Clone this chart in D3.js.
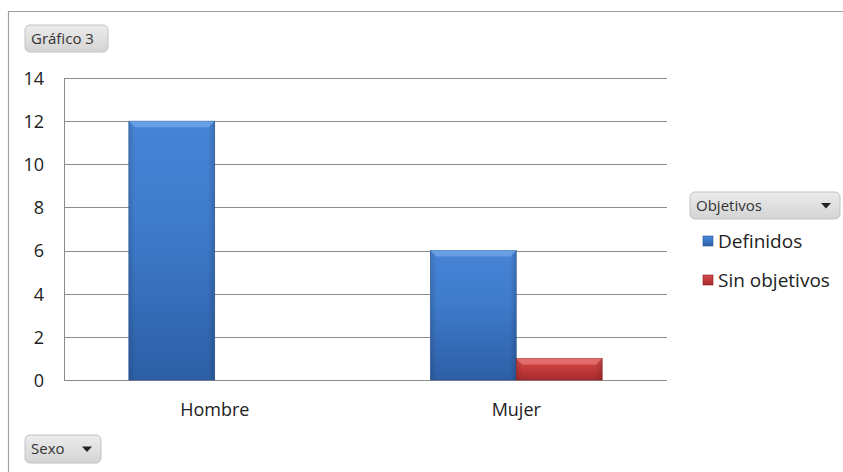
<!DOCTYPE html>
<html><head><meta charset="utf-8">
<script src="https://cdn.jsdelivr.net/npm/d3@7"></script>
<style>
html,body{margin:0;padding:0;background:#fff;}
svg{display:block;font-family:"Open Sans",sans-serif;}
</style></head>
<body><svg id="c" width="843" height="472"></svg>
<script>
const categories = ["Hombre", "Mujer"];
const seriesNames = ["Definidos", "Sin objetivos"];
const definidos = [12, 6];
const sinObjetivos = [0, 1];
const yTicks = [0, 2, 4, 6, 8, 10, 12, 14];
const title = "Gráfico 3";
const legendTitle = "Objetivos";
const axisField = "Sexo";

(function () {
const svg = d3.select("#c");
const defs = svg.append("defs");

function barGrad(id, c0, c1, c2) {
  const g = defs.append("linearGradient").attr("id", id).attr("x1", 0).attr("y1", 0).attr("x2", 0).attr("y2", 1);
  g.append("stop").attr("offset", "0%").attr("stop-color", c0);
  g.append("stop").attr("offset", "40%").attr("stop-color", c1);
  g.append("stop").attr("offset", "100%").attr("stop-color", c2);
}
barGrad("gBlue", "#4784d6", "#3f7bcb", "#2d5fa6");
barGrad("gRed", "#d44a4a", "#c63d3e", "#a82b2d");
const sideG = defs.append("linearGradient").attr("id", "gSide").attr("x1", 0).attr("y1", 0).attr("x2", 1).attr("y2", 0);
sideG.append("stop").attr("offset", "0%").attr("stop-color", "#000").attr("stop-opacity", 0.12);
sideG.append("stop").attr("offset", "8%").attr("stop-color", "#000").attr("stop-opacity", 0);
sideG.append("stop").attr("offset", "92%").attr("stop-color", "#000").attr("stop-opacity", 0);
sideG.append("stop").attr("offset", "100%").attr("stop-color", "#000").attr("stop-opacity", 0.15);

const bg = defs.append("linearGradient").attr("id", "gBtn").attr("x1", 0).attr("y1", 0).attr("x2", 0).attr("y2", 1);
bg.append("stop").attr("offset", "0%").attr("stop-color", "#ececec");
bg.append("stop").attr("offset", "100%").attr("stop-color", "#d4d4d4");

// outer frame
svg.append("path").attr("d", "M8.5,472 L8.5,11.5 L843,11.5").attr("fill", "none").attr("stroke", "#a0a0a0").attr("stroke-width", 1.2);

const pL = 64, pR = 667, pT = 78, pB = 380;
const x0 = d3.scaleBand().domain(categories).range([pL, pR]).paddingInner(0.43).paddingOuter(0.215);
const x1 = d3.scaleBand().domain(seriesNames).range([0, x0.bandwidth()]);
const y = d3.scaleLinear().domain([0, 14]).range([pB, pT]);

// gridlines
svg.append("g").selectAll("line").data(yTicks).join("line")
  .attr("x1", pL).attr("x2", pR)
  .attr("y1", d => Math.round(y(d)) + 0.5).attr("y2", d => Math.round(y(d)) + 0.5)
  .attr("stroke", "#8c8c8c").attr("stroke-width", 1);
svg.append("line").attr("x1", pL + 0.5).attr("x2", pL + 0.5).attr("y1", pT).attr("y2", pB + 0.5)
  .attr("stroke", "#8c8c8c");

// y axis labels
const yAxis = d3.axisLeft(y).tickValues(yTicks).tickSize(0).tickPadding(20);
const ya = svg.append("g").attr("transform", `translate(${pL},0)`).call(yAxis);
ya.select(".domain").remove();
ya.selectAll("text").attr("font-size", 18).attr("fill", "#222").attr("font-family", "Open Sans, sans-serif").attr("dy", "0.35em");

// x axis labels
const xAxis = d3.axisBottom(x0).tickSize(0).tickPadding(23);
const xa = svg.append("g").attr("transform", `translate(0,${pB})`).call(xAxis);
xa.select(".domain").remove();
xa.selectAll("text").attr("font-size", 18).attr("fill", "#222").attr("font-family", "Open Sans, sans-serif").attr("dy", "0.71em");

// bars
const data = [];
categories.forEach((c, i) => {
  data.push({cat: c, s: seriesNames[0], v: definidos[i], fill: "url(#gBlue)", hi: "#6ea3e6", edge: "#2a5796"});
  data.push({cat: c, s: seriesNames[1], v: sinObjetivos[i], fill: "url(#gRed)", hi: "#e57373", edge: "#8e2022"});
});
const bars = svg.append("g").selectAll("g").data(data.filter(d => d.v > 0)).join("g")
  .attr("transform", d => `translate(${x0(d.cat) + x1(d.s)},0)`);
bars.append("rect").attr("x", 0).attr("y", d => y(d.v)).attr("width", x1.bandwidth())
  .attr("height", d => y(0) - y(d.v)).attr("fill", d => d.fill).attr("stroke", d => d.edge).attr("stroke-width", 0.6);
bars.append("rect").attr("x", 0).attr("y", d => y(d.v)).attr("width", x1.bandwidth())
  .attr("height", d => y(0) - y(d.v)).attr("fill", "url(#gSide)");
bars.append("path").attr("d", d => {
  const w = x1.bandwidth(), t = y(d.v), b = 6;
  return `M0,${t} L${w},${t} L${w - b},${t + b} L${b},${t + b} Z`;
}).attr("fill", d => d.hi).attr("opacity", 0.85);

// buttons
function button(xp, yp, w, h, label, arrow) {
  const g = svg.append("g").attr("transform", `translate(${xp},${yp})`);
  g.append("rect").attr("width", w).attr("height", h).attr("rx", 5).attr("fill", "url(#gBtn)").attr("stroke", "#c2c2c2");
  g.append("text").attr("x", 6).attr("y", h / 2).attr("dy", "0.35em").attr("font-size", 15).attr("fill", "#333").text(label);
  if (arrow) {
    const ax = w - 14, ay = h / 2;
    g.append("path").attr("d", `M${ax - 5},${ay - 2.5} L${ax + 5},${ay - 2.5} L${ax},${ay + 3} Z`).attr("fill", "#222");
  }
}
button(25, 25, 83, 27, title, false);
button(25, 435, 76, 28, axisField, true);
button(690, 192, 150, 27, legendTitle, true);

// legend
const legend = svg.append("g").selectAll("g").data(seriesNames).join("g")
  .attr("transform", (d, i) => `translate(703,${236 + i * 39})`);
legend.append("rect").attr("width", 10).attr("height", 10)
  .attr("fill", (d, i) => i === 0 ? "url(#gBlue)" : "url(#gRed)")
  .attr("stroke", (d, i) => i === 0 ? "#2a5796" : "#8e2022").attr("stroke-width", 0.6);
legend.append("text").attr("x", 15).attr("y", 5).attr("dy", "0.35em").attr("font-size", 19).attr("fill", "#222").text(d => d);
})();
</script>
</body></html>
